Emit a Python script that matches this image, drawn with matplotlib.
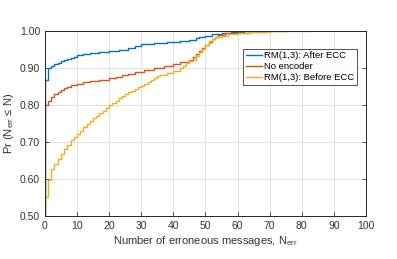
import matplotlib.pyplot as plt
import numpy as np

n_after = [0, 0, 1, 2, 3, 4, 5, 6, 7, 8, 9, 10, 12, 14, 17, 20, 23, 26, 28, 30, 34,
           38, 42, 45, 47, 48, 50, 52, 55, 58, 62, 65]
p_after = [0.0, 0.867, 0.900, 0.905, 0.910, 0.914, 0.918, 0.922, 0.925, 0.928, 0.931,
           0.934, 0.937, 0.940, 0.943, 0.946, 0.950, 0.955, 0.960, 0.964, 0.967,
           0.970, 0.973, 0.976, 0.980, 0.984, 0.988, 0.992, 0.995, 0.997, 0.999, 1.0]

n_noenc = [0, 0, 1, 2, 3, 4, 5, 6, 7, 8, 10, 12, 14, 17, 20, 22, 24, 26, 28, 31, 34,
           37, 40, 42, 45, 46, 47, 48, 49, 50, 51, 52, 53, 54, 56, 60, 64, 69, 75]
p_noenc = [0.0, 0.800, 0.810, 0.822, 0.830, 0.836, 0.840, 0.845, 0.850, 0.854, 0.858,
           0.862, 0.865, 0.868, 0.872, 0.876, 0.880, 0.885, 0.890, 0.895, 0.900,
           0.905, 0.912, 0.917, 0.922, 0.930, 0.937, 0.946, 0.955, 0.963, 0.970,
           0.978, 0.985, 0.990, 0.994, 0.996, 0.998, 1.0, 1.0]

n_before = [0, 0, 1, 2, 3, 4, 5, 6, 7, 8, 9, 10, 11, 12, 13, 14, 15, 16, 17, 18, 19,
            20, 21, 22, 23, 24, 25, 26, 27, 28, 29, 30, 31, 32, 33, 34, 35, 36, 38,
            40, 42, 43, 44, 45, 46, 47, 48, 49, 50, 51, 52, 53, 55, 57, 60, 64, 70, 83]
p_before = [0.0, 0.552, 0.597, 0.627, 0.640, 0.655, 0.668, 0.680, 0.693, 0.705, 0.713,
            0.722, 0.730, 0.740, 0.748, 0.756, 0.764, 0.771, 0.778, 0.785, 0.792,
            0.800, 0.806, 0.812, 0.818, 0.824, 0.829, 0.834, 0.839, 0.844, 0.848,
            0.852, 0.857, 0.862, 0.868, 0.874, 0.879, 0.882, 0.886, 0.891, 0.900,
            0.906, 0.913, 0.918, 0.923, 0.932, 0.943, 0.952, 0.962, 0.972, 0.978,
            0.983, 0.988, 0.992, 0.995, 0.997, 0.999, 1.0]

labels = ['RM(1,3): After ECC', 'No encoder', 'RM(1,3): Before ECC']

plt.rcParams['font.family'] = ['Liberation Sans', 'DejaVu Sans']

fig = plt.figure(figsize=(3.97, 2.59), dpi=100)
ax = fig.add_axes([0.113, 0.166, 0.809, 0.714])

ax.step(n_after, p_after, where='post', color='#0072BD', lw=1.0, label=labels[0])
ax.step(n_noenc, p_noenc, where='post', color='#D95319', lw=1.0, label=labels[1])
ax.step(n_before, p_before, where='post', color='#EDB120', lw=1.0, label=labels[2])

ax.set_xlim(0, 100)
ax.set_ylim(0.5, 1.0)
ax.set_xticks(np.arange(0, 101, 10))
ax.set_yticks(np.arange(0.5, 1.01, 0.1))
ax.set_yticklabels(['%.2f' % v for v in np.arange(0.5, 1.01, 0.1)])
ax.grid(True, color='#dcdcdc', lw=0.6)
ax.set_axisbelow(True)
ax.tick_params(direction='in', labelsize=7.5, colors='#333333', length=3, width=0.6,
               top=False, right=True)
for s in ax.spines.values():
    s.set_color('#262626')
    s.set_linewidth(0.7)

ax.set_xlabel('Number of erroneous messages, N$_{\\mathregular{err}}$', fontsize=8,
              color='#333333', labelpad=2)
ax.set_ylabel('Pr (N$_{\\mathregular{err}}$ \u2264 N)', fontsize=8, color='#333333',
              labelpad=3)

leg = ax.legend(loc='upper right', bbox_to_anchor=(0.972, 0.905), fontsize=6.8,
                frameon=True, fancybox=False, handlelength=1.7, handletextpad=0.25,
                borderpad=0.3, labelspacing=0.2, borderaxespad=0)
leg.get_frame().set_edgecolor('#262626')
leg.get_frame().set_linewidth(0.7)

fig.savefig('out.png', dpi=100)
